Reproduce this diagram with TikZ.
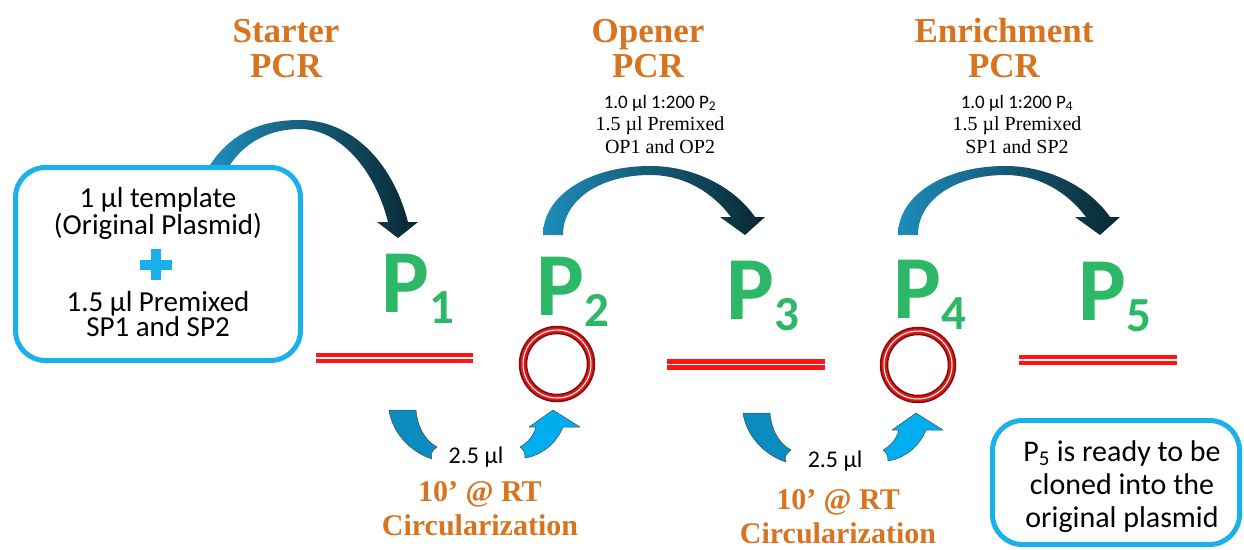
\documentclass[tikz,border=0pt]{standalone}
\usepackage{fontspec}
\setmainfont{Liberation Serif}
\newfontfamily\calib{Carlito}
\usetikzlibrary{calc}
\definecolor{titleorange}{HTML}{D8731F}
\definecolor{pgreen}{HTML}{2CB866}
\definecolor{boxcyan}{HTML}{1AB0EC}
\definecolor{arcteal}{HTML}{1E8DBA}
\definecolor{arcmid}{HTML}{1F7F92}
\definecolor{arcdark}{HTML}{0A2630}
\definecolor{downblue}{HTML}{0A8CC0}
\definecolor{upcyan}{HTML}{00AEEF}
\definecolor{dnared}{HTML}{FF1414}
\definecolor{ringred}{HTML}{DC1C1C}
\definecolor{ringdark}{HTML}{8A0A0A}
\tikzset{
    title/.style={
        font=\fontsize{35}{35}\selectfont\bfseries, text=titleorange,
        align=center, anchor=base
    },
    mixlab/.style={font=\fontsize{20}{22.5}\selectfont, align=center, anchor=base},
    boxlab/.style={font=\calib\fontsize{29}{25}\selectfont, align=center, anchor=base},
    donelab/.style={font=\calib\fontsize{30}{33}\selectfont, align=center, anchor=base},
    plab/.style={font=\calib\bfseries\fontsize{90}{90}\selectfont, text=pgreen, anchor=base west, inner sep=0},
    vol/.style={font=\calib\fontsize{24}{24}\selectfont, anchor=base},
    circlab/.style={
        font=\fontsize{30}{34}\selectfont\bfseries, text=titleorange,
        align=center, anchor=base
    },
    dna/.style={dnared, line width=4.5, double=white, double distance=1.5},
    roundbox/.style={draw=boxcyan, line width=5, rounded corners=30, fill=white},
    flowarc/.style={left color=arcteal, middle color=arcmid, right color=arcdark}
}
\newcommand\prodname[1]{P\raisebox{-11pt}{\fontsize{49}{49}\selectfont #1}}

\begin{document}
\begin{tikzpicture}[x=1pt, y=-1pt, line join=round]

\useasboundingbox (0,0) rectangle (1244,549);

% stage titles (base = last line)
\node[title] (starter) at (286,77) {Starter\\PCR};
\node[title] (opener) at (648,77) {Opener\\PCR};
\node[title] (enrich) at (1004,77) {Enrichment\\PCR};

% what goes into each later PCR
\node[mixlab] (openmix) at (660,153) {{\calib\fontsize{19}{22.5}\selectfont 1.0 µl 1:200 P\textsubscript{2}}\\1.5 µl Premixed\\OP1 and OP2};
\node[mixlab] (enrichmix) at (1017,153) {{\calib\fontsize{19}{22.5}\selectfont 1.0 µl 1:200 P\textsubscript{4}}\\1.5 µl Premixed\\SP1 and SP2};

% big arcs, starter one goes behind the box
\shade[flowarc] (210,165) .. controls (232,132) and (262,120) .. (300,120)
    .. controls (350,120) and (392,160) .. (408,222) -- (418,222) -- (398,238) -- (377,222) -- (388,222)
    .. controls (375,170) and (340,129) .. (300,129)
    .. controls (270,129) and (245,142) .. (230,165) -- cycle;
\foreach \dx in {0,355} {
  \shade[flowarc, xshift=\dx] (543,235) .. controls (543,195) and (590,166) .. (650,166)
      .. controls (695,166) and (735,188) .. (755,217) -- (765,217) -- (745,235) -- (720,217) -- (731,217)
      .. controls (713,193) and (685,175) .. (650,175)
      .. controls (600,175) and (563,200) .. (563,235) -- cycle;
}

% template box
\node[roundbox, minimum width=285, minimum height=193] (startbox) at (158,264) {};
\node[boxlab] (template) at (158,234) {1 µl template\\(Original Plasmid)};
\draw[boxcyan, line width=10] (140,264.5) -- (172,264.5) (156,249) -- (156,280);
\node[boxlab] (primers) at (158,336) {1.5 µl Premixed\\SP1 and SP2};

% products
\node[plab] (p1) at (381,312) {\prodname{1}};
\node[plab] (p2) at (536,315) {\prodname{2}};
\node[plab] (p3) at (726,319) {\prodname{3}};
\node[plab] (p4) at (893,318) {\prodname{4}};
\node[plab] (p5) at (1078,320) {\prodname{5}};

% linear DNA
\draw[dna] (316,358) -- (473,358);
\draw[dna] (667,364.5) -- (825,364.5);
\draw[dna] (1019,360) -- (1177,360);

% circular DNA
\foreach \cx/\cy in {557/364, 918/365} {
  \draw[ringdark, line width=8.5] (\cx,\cy) circle (34);
  \draw[ringred, line width=5] (\cx,\cy) circle (34);
  \draw[white, line width=1] (\cx,\cy) circle (34);
}

% circularization step (down, then back up)
\foreach \dx/\dy/\ux in {0/0/0, 354/3/363} {
  \filldraw[fill=downblue, draw=black!70, line width=0.5, shift={(\dx,\dy)}]
      (389,410) -- (416,410) .. controls (417,425) and (424,440) .. (437,447)
      .. controls (432,450) and (430,455) .. (432,459)
      .. controls (410,452) and (392,432) .. (389,410) -- cycle;
  \filldraw[fill=upcyan, draw=black!70, line width=0.5, shift={(\ux,\dy)}]
      (520,447) .. controls (527,443) and (533,437) .. (536,427) -- (529,427) -- (553,410) -- (580,427) -- (563,427)
      .. controls (556,444) and (542,455) .. (525,458)
      .. controls (525,453) and (524,450) .. (520,447) -- cycle;
}
\node[vol] (vol1) at (476,463) {2.5 µl};
\node[vol] (vol2) at (835,467) {2.5 µl};
\node[circlab] (circ1) at (480,535) {10’ @ RT\\Circularization};
\node[circlab] (circ2) at (838,543) {10’ @ RT\\Circularization};

% end note
\node[roundbox, minimum width=247, minimum height=124] (donebox) at (1116,482.5) {};
\node[donelab] (done) at (1122,527) {P\textsubscript{5} is ready to be\\cloned into the\\original plasmid};

\end{tikzpicture}
\end{document}
